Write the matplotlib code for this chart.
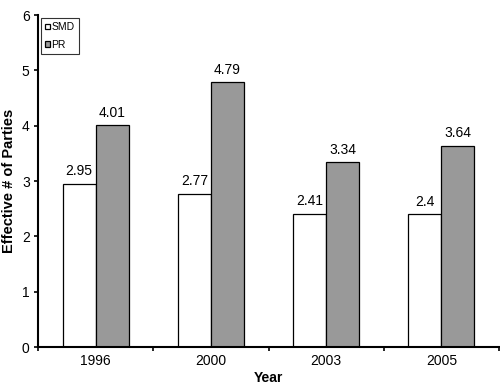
import matplotlib.pyplot as plt
import numpy as np

plt.rcParams['font.family'] = ['Liberation Sans', 'DejaVu Sans']

years = ['1996', '2000', '2003', '2005']
smd = [2.95, 2.77, 2.41, 2.4]
pr = [4.01, 4.79, 3.34, 3.64]
smd_labels = ['2.95', '2.77', '2.41', '2.4']
pr_labels = ['4.01', '4.79', '3.34', '3.64']

fig = plt.figure(figsize=(5, 3.87), dpi=100)
ax = fig.add_axes([0.076, 0.103, 0.922, 0.858])

x = np.arange(len(years))
w = 0.286
b1 = ax.bar(x - w / 2, smd, w, color='white', edgecolor='black', linewidth=0.9, label='SMD')
b2 = ax.bar(x + w / 2, pr, w, color='#999999', edgecolor='black', linewidth=0.9, label='PR')

for rect, t in zip(b1, smd_labels):
    ax.text(rect.get_x() + rect.get_width() / 2, rect.get_height() + 0.1, t,
            ha='center', va='bottom', fontsize=10)
for rect, t in zip(b2, pr_labels):
    ax.text(rect.get_x() + rect.get_width() / 2, rect.get_height() + 0.1, t,
            ha='center', va='bottom', fontsize=10)

ax.set_xlim(-0.5, 3.5)
ax.set_ylim(0, 6)
ax.set_xticks(x)
ax.set_xticklabels(years, fontsize=10)
ax.set_xticks(np.arange(-0.5, 4, 1), minor=True)
ax.tick_params(axis='x', which='major', length=0, pad=5)
ax.tick_params(axis='x', which='minor', length=3, width=1.2, direction='out')
ax.tick_params(axis='y', length=3, width=1.2, labelsize=10, pad=3)
ax.set_yticks(range(0, 7))

for s in ['top', 'right']:
    ax.spines[s].set_visible(False)
for s in ['left', 'bottom']:
    ax.spines[s].set_linewidth(1.5)

ax.set_xlabel('Year', fontsize=10, fontweight='bold', labelpad=2)
ax.set_ylabel('Effective # of Parties', fontsize=10.5, fontweight='bold', labelpad=4)

leg = ax.legend(loc='upper left', fontsize=7.5, frameon=True, fancybox=False,
                handlelength=0.45, handleheight=0.45, handletextpad=0.15,
                borderpad=0.45, labelspacing=0.7, borderaxespad=0.25,
                bbox_to_anchor=(0.0, 1.0))
leg.get_frame().set_edgecolor('black')
leg.get_frame().set_linewidth(0.8)

fig.savefig('out.png', dpi=100)
